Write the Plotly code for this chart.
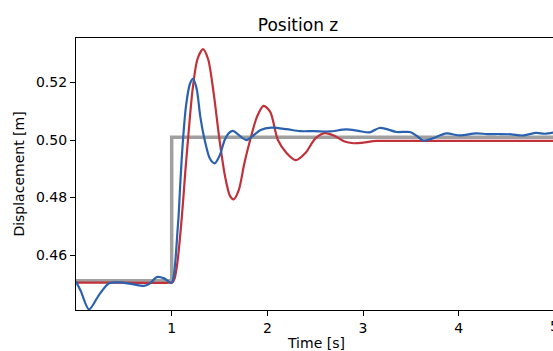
import plotly.graph_objects as go

# Reference (step command)
ref_t = [0.0, 1.0, 1.0, 5.0]
ref_z = [0.4511, 0.4511, 0.5010, 0.5010]

# Red response
red_t = [0.0, 0.5, 0.98, 1.01, 1.03, 1.06, 1.108, 1.14, 1.17, 1.22, 1.27, 1.327, 1.38, 1.44, 1.50,
         1.56, 1.61, 1.648, 1.70, 1.76, 1.82, 1.89, 1.96, 2.03, 2.11, 2.20, 2.296, 2.40, 2.50,
         2.60, 2.70, 2.80, 2.90, 3.00, 3.14, 3.40, 4.00, 4.50, 5.0]
red_z = [0.4504, 0.4504, 0.4504, 0.4506, 0.4518, 0.4575, 0.4740, 0.4880, 0.5000, 0.5180, 0.5282,
         0.5316, 0.5282, 0.5160, 0.5000, 0.4870, 0.4805, 0.4794, 0.4825, 0.4920, 0.5000, 0.5080,
         0.5119, 0.5098, 0.5000, 0.4955, 0.4930, 0.4956, 0.5005, 0.5024, 0.5015, 0.4996, 0.4989,
         0.4991, 0.4997, 0.4997, 0.4997, 0.4997, 0.4997]

# Blue response
blue_t = [0.0, 0.05, 0.136, 0.24, 0.345, 0.45, 0.589, 0.71, 0.763, 0.85, 0.92, 1.0, 1.02, 1.04,
          1.06, 1.073, 1.09, 1.118, 1.15, 1.19, 1.223, 1.26, 1.30, 1.345, 1.40, 1.449, 1.50, 1.554,
          1.60, 1.641, 1.70, 1.78, 1.85, 1.93, 2.04, 2.20, 2.34, 2.49, 2.65, 2.826, 2.95, 3.07,
          3.17, 3.25, 3.35, 3.49, 3.56, 3.63, 3.72, 3.87, 4.01, 4.18, 4.30, 4.43, 4.55, 4.67,
          4.81, 4.90, 5.0]
blue_z = [0.4508, 0.4475, 0.4411, 0.4461, 0.4502, 0.4505, 0.4499, 0.4493, 0.4499, 0.4524, 0.4519,
          0.4503, 0.4525, 0.4585, 0.4680, 0.4740, 0.4850, 0.5000, 0.5120, 0.5195, 0.5213, 0.5180,
          0.5080, 0.5000, 0.4935, 0.4919, 0.4945, 0.5000, 0.5025, 0.5032, 0.5018, 0.5000, 0.5015,
          0.5035, 0.5043, 0.5038, 0.5031, 0.5031, 0.5030, 0.5037, 0.5032, 0.5027, 0.5042, 0.5038,
          0.5028, 0.5028, 0.5015, 0.4998, 0.5005, 0.5023, 0.5016, 0.5023, 0.5021, 0.5021, 0.5020,
          0.5016, 0.5025, 0.5022, 0.5027]

x_ticks = [1, 2, 3, 4]
y_ticks = [0.46, 0.48, 0.50, 0.52]
y_tick_text = ["0.46", "0.48", "0.50", "0.52"]

FONT = "DejaVu Sans"

fig = go.Figure()
fig.add_trace(go.Scatter(x=ref_t, y=ref_z, mode="lines",
                         line=dict(color="#a0a0a0", width=3.5), showlegend=False))
fig.add_trace(go.Scatter(x=red_t, y=red_z, mode="lines",
                         line=dict(color="#c0313a", width=2.2, shape="spline", smoothing=0.8),
                         showlegend=False))
fig.add_trace(go.Scatter(x=blue_t, y=blue_z, mode="lines",
                         line=dict(color="#2a62b0", width=2.2, shape="spline", smoothing=0.8),
                         showlegend=False))

fig.update_layout(
    width=553, height=351,
    margin=dict(l=76, r=0, t=38, b=41),
    paper_bgcolor="white", plot_bgcolor="white",
    font=dict(family=FONT, size=14, color="black"),
    title=dict(text="Position z", x=298 / 553, xanchor="center", y=1 - 25 / 351,
               yanchor="middle", font=dict(size=17, family=FONT, color="black")),
    showlegend=False,
)
fig.update_xaxes(
    range=[0, 4.985], tickvals=x_ticks, ticks="outside", ticklen=5, tickwidth=1,
    tickcolor="black", showline=True, linecolor="black", linewidth=1.2, mirror=True,
    showgrid=False, zeroline=False, tickfont=dict(size=14), automargin=False,
)
fig.update_yaxes(
    range=[0.4409, 0.5355], tickvals=y_ticks, ticktext=y_tick_text, ticks="outside",
    ticklen=5, tickwidth=1, tickcolor="black", showline=True, linecolor="black",
    linewidth=1.2, mirror=False, showgrid=False, zeroline=False, tickfont=dict(size=14),
    automargin=False,
    title=dict(text="Displacement [m]", font=dict(size=14), standoff=8),
)
# x-axis title, placed low as in the reference
fig.add_annotation(text="Time [s]", xref="paper", yref="paper", x=(316 - 76) / 477, y=0,
                   xanchor="center", yanchor="middle", yshift=-33, showarrow=False,
                   font=dict(size=14, family=FONT, color="black"))
# partially visible last tick label at the clipped right edge (as in the reference)
fig.add_annotation(text="5", xref="paper", yref="paper", x=5 / 4.985, y=0,
                   xanchor="center", yanchor="top", yshift=-6, showarrow=False,
                   font=dict(size=14, family=FONT, color="black"))

fig.write_html("out.html")
